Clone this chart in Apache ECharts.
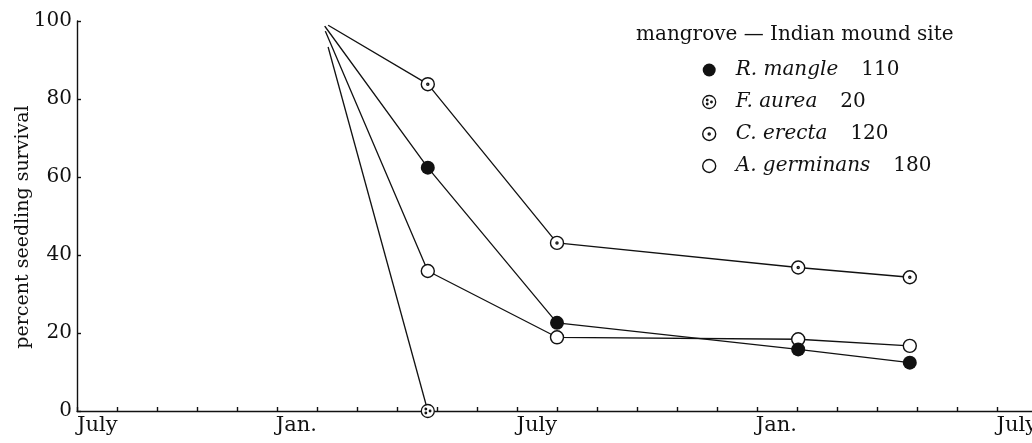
<!DOCTYPE html>
<html>
<head>
<meta charset="utf-8">
<title>seedling survival</title>
<script src="https://cdn.jsdelivr.net/npm/echarts@6/dist/echarts.min.js"></script>
<style>
  html, body { margin: 0; padding: 0; background: #fff; }
  #chart { width: 1032px; height: 443px; }
</style>
</head>
<body>
<div id="chart"></div>
<script>
// months counted from the first July on the axis
var surveyMonths = [6.1, 8.77, 12, 18.03, 20.82];
var rMangle = [100, 62.4, 22.6, 15.8, 12.4];
var fAurea = [100, 0];
var cErecta = [100, 83.8, 43.1, 36.8, 34.3];
var aGerminans = [100, 35.9, 18.9, 18.4, 16.7];

var speciesNames = ["R. mangle", "F. aurea", "C. erecta", "A. germinans"];
var seedlingCounts = [110, 20, 120, 180];

var labelMonths = [0, 6, 12, 18, 24];
var labelTexts = ["July", "Jan.", "July", "Jan.", "July"];

var ink = "#111";
var serif = "DejaVu Serif";

// circle with a dot / circle with little dots
var dotPath = "path://M0,-10A10,10,0,1,1,0,10A10,10,0,1,1,0,-10Z" +
  "M0,-1.6A1.6,1.6,0,1,1,0,1.6A1.6,1.6,0,1,1,0,-1.6Z";
var dotsPath = "path://M0,-10A10,10,0,1,1,0,10A10,10,0,1,1,0,-10Z" +
  "M-3,-4.2A1.2,1.2,0,1,1,-3,-1.8A1.2,1.2,0,1,1,-3,-4.2Z" +
  "M-3,1.8A1.2,1.2,0,1,1,-3,4.2A1.2,1.2,0,1,1,-3,1.8Z" +
  "M3.5,-1.2A1.2,1.2,0,1,1,3.5,1.2A1.2,1.2,0,1,1,3.5,-1.2Z";

var markStyle = {
  "R. mangle": { symbol: "circle", size: 14, item: { color: ink } },
  "F. aurea": { symbol: dotsPath, size: 13, item: { color: "#fff", borderColor: ink, borderWidth: 1.3 } },
  "C. erecta": { symbol: dotPath, size: 13, item: { color: "#fff", borderColor: ink, borderWidth: 1.4 } },
  "A. germinans": { symbol: "circle", size: 13, item: { color: "#fff", borderColor: ink, borderWidth: 1.4 } }
};

// the lines leave the Jan. 100% point with a gap, hidden by a white disc
var startGap = { "R. mangle": 13, "F. aurea": 54, "C. erecta": 17, "A. germinans": 22 };
var seriesZ = { "R. mangle": 6, "F. aurea": 3, "C. erecta": 5, "A. germinans": 4 };

function buildData(name, values) {
  return values.map(function (v, i) {
    if (i === 0) {
      return {
        value: [surveyMonths[i], v],
        symbol: "circle",
        symbolSize: startGap[name],
        itemStyle: { color: "#fff", borderWidth: 0 }
      };
    }
    return [surveyMonths[i], v];
  });
}

var valuesByName = {
  "R. mangle": rMangle,
  "F. aurea": fAurea,
  "C. erecta": cErecta,
  "A. germinans": aGerminans
};

var series = [];
var legendData = [];
speciesNames.forEach(function (name) {
  var m = markStyle[name];
  series.push({
    name: name,
    type: "line",
    z: seriesZ[name],
    symbol: m.symbol,
    symbolSize: m.size,
    symbolKeepAspect: true,
    showAllSymbol: true,
    clip: false,
    lineStyle: { color: ink, width: 1.3 },
    itemStyle: m.item,
    emphasis: { disabled: true },
    data: buildData(name, valuesByName[name])
  });
  legendData.push({
    name: name,
    icon: m.symbol,
    itemStyle: m.item
  });
});

var option = {
  backgroundColor: "#fff",
  animation: false,
  title: {
    text: "mangrove \u2014 Indian mound site",
    left: 636,
    top: 25,
    padding: 0,
    textStyle: { fontFamily: serif, fontSize: 20, fontWeight: "normal", color: ink }
  },
  legend: {
    orient: "vertical",
    left: 702,
    top: 59,
    padding: 0,
    itemGap: 10,
    itemWidth: 13,
    itemHeight: 13,
    selectedMode: false,
    data: legendData,
    formatter: function (name) {
      var i = speciesNames.indexOf(name);
      return "{i|" + name + "}{n|" + seedlingCounts[i] + "}";
    },
    textStyle: {
      color: ink,
      lineHeight: 22,
      rich: {
        i: { fontFamily: serif, fontStyle: "italic", fontSize: 20, color: ink, padding: [0, 0, 0, 15] },
        n: { fontFamily: serif, fontSize: 20, color: ink, padding: [0, 0, 0, 23] }
      }
    }
  },
  grid: {
    left: 77,
    right: -5,
    top: 21,
    bottom: 32,
    containLabel: false,
    outerBoundsMode: "none"
  },
  xAxis: {
    type: "value",
    min: 0,
    max: 24,
    interval: 1,
    axisLine: { lineStyle: { color: ink, width: 1.4 } },
    axisTick: { inside: true, length: 4, lineStyle: { color: ink, width: 1.4 } },
    splitLine: { show: false },
    axisLabel: {
      margin: 4,
      align: "right",
      alignMinLabel: "left",
      alignMaxLabel: "right",
      fontFamily: serif,
      fontSize: 21,
      color: ink,
      formatter: function (v) {
        var i = labelMonths.indexOf(v);
        return i >= 0 ? labelTexts[i] : "";
      }
    }
  },
  yAxis: {
    type: "value",
    min: 0,
    max: 100,
    interval: 20,
    name: "percent seedling survival",
    nameLocation: "middle",
    nameGap: 44,
    nameMoveOverlap: false,
    nameTextStyle: { fontFamily: serif, fontSize: 19, color: ink, padding: [0, 22, 0, 0] },
    axisLine: { show: true, lineStyle: { color: ink, width: 1.4 } },
    axisTick: { show: true, inside: true, length: 4, lineStyle: { color: ink, width: 1.4 } },
    splitLine: { show: false },
    axisLabel: { margin: 5, fontFamily: serif, fontSize: 20, color: ink }
  },
  series: series
};

var chart = echarts.init(document.getElementById("chart"));
chart.setOption(option);
window.addEventListener("resize", function () {
  chart.resize();
});
</script>
</body>
</html>
